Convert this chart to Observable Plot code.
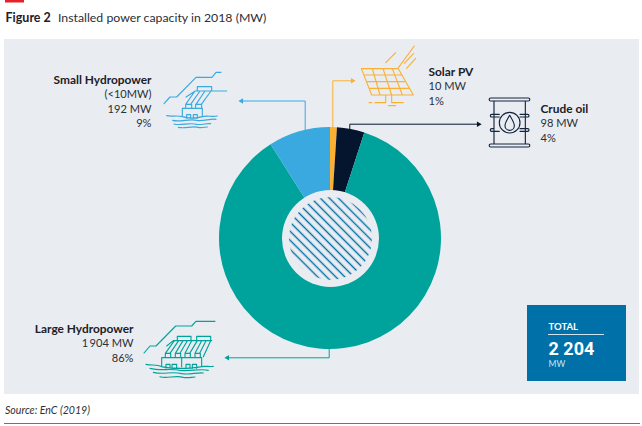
<!DOCTYPE html>
<html><head><meta charset="utf-8">
<script src="https://cdn.jsdelivr.net/npm/d3@7"></script>
<script src="https://cdn.jsdelivr.net/npm/@observablehq/plot@0.6"></script>
<style>html,body{margin:0;padding:0;background:#fff}svg{display:block}</style>
</head><body><div id="chart"></div>
<script>
// ---- data
const sources = ["Solar PV", "Crude oil", "Large Hydropower", "Small Hydropower"];
const capacityMW = ["10 MW", "98 MW", "1\u2009904 MW", "192 MW"];
const sharePercent = [1, 4, 86, 9];
const totalLabel = "2 204";

// ---- styles and layout
const FONT = "Lato, 'Open Sans', sans-serif";
const INK = "#2b2f36", DARK = "#14243c";
const colors = ["#fbb034", "#06152e", "#00a39b", "#39a9e0"];
const PANEL = "#e9edf2", BOX = "#0070a8";
const cx = 330, cy = 238, rOuter = 111, rHub = 48.5, rHatch = 41.5;

const labelAnchor = [
  {x: 428, y: 75, a: "start"},
  {x: 540, y: 112, a: "start"},
  {x: 133, y: 332, a: "end"},
  {x: 151, y: 83, a: "end"}
];
const labels = [];
sources.forEach((s, i) => {
  const p = labelAnchor[i];
  const rows = [[s, "bold"]];
  if (s === "Small Hydropower") rows.push(["(<10MW)", "normal"]);
  rows.push([capacityMW[i], "normal"], [sharePercent[i] + "%", "normal"]);
  rows.forEach(([t, w], k) => labels.push({t, w, x: p.x, y: p.y + k * 14.6, a: p.a}));
});
const labelMark = (a, w) => Plot.text(labels.filter(d => d.a === a && d.w === w), {
  x: "x", y: "y", text: "t", textAnchor: a, fontWeight: w, lineAnchor: "bottom",
  fontFamily: FONT, fontSize: w === "bold" ? 11.9 : 11.1, fill: w === "bold" ? "#1d2027" : INK});

const leaders = [
  {c: 0, pts: [[332.3, 128], [332.3, 80.3], [352, 80.3]], rot: 90},
  {c: 1, pts: [[349.3, 129], [349.3, 123.7], [478, 123.7]], rot: 90},
  {c: 2, pts: [[328.7, 348], [328.7, 357.3], [227, 357.3]], rot: -90},
  {c: 3, pts: [[304.7, 131], [304.7, 100.5], [241, 100.5]], rot: -90}
];
const leaderRows = leaders.flatMap((l, i) => l.pts.map(p => ({i, x: p[0], y: p[1]})));

const hydroSmall = `M12 116L30 96H50L108 37H156L168 22H183M78 96L106 78H200M112 78V65H155V78
M105 78L77 118M120 78L92 118M135 78L108 118M153 78L124 118M77 118H95V130H77ZM107 118H125V130H107Z
M67 155V130H127V155M80 160V149H92V160M100 160V149H112V160
M20 152C35 156 50 150 67 155C90 162 110 160 127 155C140 151 155 156 172 153
M38 166C60 172 90 160 110 166C130 170 150 160 168 163M42 177C60 183 90 172 110 178C125 181 140 174 152 176
M55 187C75 192 95 182 115 187C125 190 135 186 142 186`;
const hydroLarge = `M12 114L30 93H48L107 33H155L168 19H225M80 93L100 77H215M112 77V64H153V77M170 77V64H212V77
M103 77L76 115M116 77L90 115M129 77L106 115M142 77L120 115M155 77L135 115M172 77L149 115M185 77L165 115M198 77L179 115M212 77L190 125
M65 155V128H185V155M125 128V155M76 128V115H92V128M106 128V115H122V128M135 128V115H151V128M165 128V115H181V128
M78 160V148H90V160M96 160V148H110V160M138 160V148H150V160M157 160V148H170V160
M18 148C35 152 50 147 65 155C90 162 150 162 185 155C195 152 205 156 220 154
M30 160C60 168 90 160 120 166C150 170 180 160 205 166M40 172C70 180 95 168 125 176C150 180 170 172 190 174
M60 185C80 192 105 180 130 187C145 190 155 186 165 186`;
const solar = `M19 86H130L175 165H50ZM28 105H141M36 125H152M43 145H163M52 86L75 165M84 86L110 165M112 86L142 165
M92 68L122 38M128 86L178 18M148 70L176 40M155 85L182 55M92 165V188M110 165V188M60 188H92M110 188H145M42 188H50M100 197H122`;
const barrel = `M17 18H130A4.5 4.5 0 0 1 130 27H17A4.5 4.5 0 0 1 17 18ZM17 156H130A4.5 4.5 0 0 1 130 165H17A4.5 4.5 0 0 1 17 156Z
M27 27V156M121 27V156M27 67H20A4 4 0 0 0 20 75H43M105 67H128A4 4 0 0 1 128 75H105M43 67H27M27 110H20A4 4 0 0 0 20 118H43M105 110H128A4 4 0 0 1 128 118H105
M74 70C66 84 60 92 60 101A14 14 0 0 0 88 101C88 92 82 84 74 70Z`;
const icons = [
  {d: hydroSmall, x: 160, y: 65, c: colors[3]},
  {d: hydroLarge, x: 140, y: 315, c: colors[2]},
  {d: solar, x: 355, y: 40, c: colors[0]},
  {d: barrel, x: 485, y: 92, c: DARK}
];

function svgEl(name, attrs, parent) {
  const e = document.createElementNS("http://www.w3.org/2000/svg", name);
  for (const k in attrs) e.setAttribute(k, attrs[k]);
  if (parent) parent.appendChild(e);
  return e;
}

// donut slices, computed from sharePercent with d3.pie and placed through Plot's scales
function donut(index, scales) {
  const g = svgEl("g", {transform: `translate(${scales.x(cx)},${scales.y(cy)})`});
  const pie = d3.pie().sort(null)(sharePercent);
  const arc = d3.arc().innerRadius(rHub - 2).outerRadius(rOuter);
  pie.forEach((s, i) => svgEl("path", {d: arc(s), fill: colors[i]}, g));
  return g;
}
function hatchDefs() {
  const defs = svgEl("defs", {});
  const p = svgEl("pattern", {id: "hatch", width: 6.4, height: 6.4, patternUnits: "userSpaceOnUse",
    patternTransform: "rotate(45)"}, defs);
  svgEl("rect", {width: 6.4, height: 6.4, fill: PANEL}, p);
  svgEl("line", {x1: 0, x2: 6.4, y1: 3.2, y2: 3.2, stroke: BOX, "stroke-width": 1.4}, p);
  return defs;
}
function drawIcons(index, scales) {
  const g = svgEl("g", {fill: "none", "stroke-linejoin": "round", "stroke-linecap": "round"});
  icons.forEach(ic => {
    const t = svgEl("g", {transform: `translate(${scales.x(ic.x)},${scales.y(ic.y)}) scale(${1/3})`}, g);
    svgEl("path", {d: ic.d, stroke: ic.c, "stroke-width": 3.4}, t);
    if (ic.d === barrel) svgEl("circle", {cx: 74, cy: 92, r: 31, stroke: ic.c, "stroke-width": 3.4}, t);
  });
  return g;
}

const T = (text, x, y, opts = {}) => Plot.text([text], {x: () => x, y: () => y, text: d => d,
  lineAnchor: "bottom", textAnchor: "start", fontFamily: FONT, fontSize: 11, fill: INK, ...opts});

const chart = Plot.plot({
  width: 642, height: 426,
  margin: 0,
  x: {domain: [0, 642], range: [0, 642], axis: null},
  y: {domain: [0, 426], range: [0, 426], axis: null},
  style: {background: "#fff"},
  marks: [
    hatchDefs,
    Plot.rect([0], {x1: () => 5, x2: () => 24, y1: () => 0, y2: () => 2.5, fill: "#e5202a"}),
    Plot.rect([0], {x1: () => 4, x2: () => 639, y1: () => 39, y2: () => 394, fill: PANEL}),
    Plot.ruleY([423], {x1: () => 4, x2: () => 640, stroke: "#2f86b8", strokeWidth: 1}),
    T("Figure 2", 5, 21, {fontWeight: "bold", fontSize: 12.5, fill: "#1d2027"}),
    T("Installed power capacity in 2018 (MW)", 57.5, 21, {fontSize: 12.3}),
    donut,
    Plot.dot([0], {x: () => cx, y: () => cy, r: rHub, fill: PANEL, stroke: "none"}),
    Plot.dot([0], {x: () => cx, y: () => cy, r: rHatch, fill: "url(#hatch)", stroke: "none"}),
    Plot.line(leaderRows, {x: "x", y: "y", z: "i", stroke: d => colors[d.i], strokeWidth: 1, curve: "linear"}),
    Plot.dot(leaders, {x: d => d.pts[2][0], y: d => d.pts[2][1], symbol: "triangle2", r: 2.6,
      rotate: d => d.rot, fill: d => colors[leaders.indexOf(d)], stroke: "none"}),
    drawIcons,
    labelMark("start", "bold"), labelMark("start", "normal"),
    labelMark("end", "bold"), labelMark("end", "normal"),
    Plot.rect([0], {x1: () => 527, x2: () => 626, y1: () => 305, y2: () => 381, fill: BOX}),
    T("TOTAL", 548, 329, {fontWeight: "bold", fontSize: 9.5, fill: "#fff"}),
    Plot.ruleY([334], {x1: () => 548, x2: () => 604, stroke: "#cfe2ee", strokeWidth: 1}),
    T(totalLabel, 548, 354, {fontWeight: "bold", fontSize: 18, fontFamily: "Roboto, sans-serif", fill: "#fff"}),
    T("MW", 548, 366, {fontSize: 8.5, fill: "#cfe2ee"}),
    T("Source: EnC (2019)", 4.5, 413, {fontSize: 10.6, fontStyle: "italic"})
  ]
});
document.getElementById("chart").appendChild(chart);
</script></body></html>
